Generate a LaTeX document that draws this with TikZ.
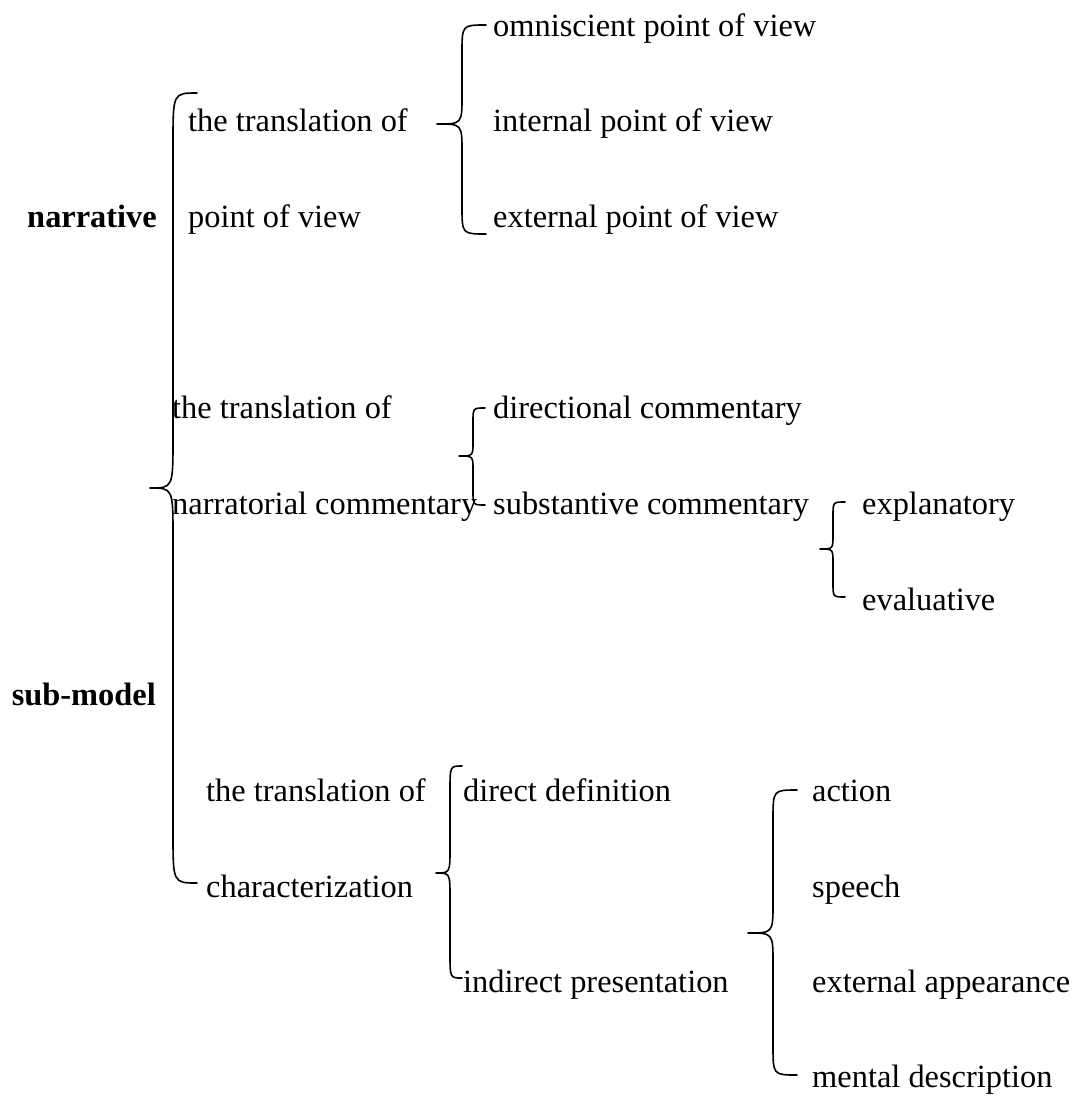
\documentclass[tikz,border=0pt]{standalone}
\usepackage{fontspec}
\setmainfont{Liberation Serif}
\newcommand\drawbrace[7]{% #1 end x, #2 top y, #3 stem x, #4 tip x, #5 tip y, #6 bottom y, #7 corner
  \draw[bracestyle] (#1,#2) .. controls (#3,#2) .. (#3,#2+#7) -- (#3,#5-#7)
    .. controls (#3,#5) .. (#4,#5) .. controls (#3,#5) .. (#3,#5+#7)
    -- (#3,#6-#7) .. controls (#3,#6) .. (#1,#6);}
\begin{document}
\begin{tikzpicture}[x=1pt,y=-1pt,
  lbl/.style={anchor=mid west,inner sep=0pt,font=\fontsize{32.4}{38}\selectfont},
  head/.style={lbl,anchor=mid east,font=\fontsize{32.4}{38}\selectfont\bfseries},
  bracestyle/.style={line width=1.6pt,line cap=round,line join=round}]
\path[use as bounding box,fill=white] (0,0) rectangle (1074,1097);
% text rows
\def\rA{34}\def\rB{129.6}\def\rC{225.3}\def\rE{416.6}\def\rF{512.2}\def\rG{607.8}
\def\rH{703.5}\def\rI{799.1}\def\rJ{894.8}\def\rK{990.4}\def\rL{1085}
\node[head] (narr) at (157,\rC) {narrative};
\node[head] (sub) at (156,\rH) {sub-model};
\node[lbl] (t1) at (188,\rB) {the translation of};
\node[lbl] (pov) at (188,\rC) {point of view};
\node[lbl] (omn) at (493,\rA) {omniscient point of view};
\node[lbl] (int) at (493,\rB) {internal point of view};
\node[lbl] (ext) at (493,\rC) {external point of view};
\node[lbl] (t2) at (172,\rE) {the translation of};
\node[lbl] (nc) at (172,\rF) {narratorial commentary};
\node[lbl] (dc) at (493,\rE) {directional commentary};
\node[lbl] (sc) at (493,\rF) {substantive commentary};
\node[lbl] (expl) at (862,\rF) {explanatory};
\node[lbl] (eval) at (862,\rG) {evaluative};
\node[lbl] (t3) at (206,\rI) {the translation of};
\node[lbl] (char) at (206,\rJ) {characterization};
\node[lbl] (dd) at (463,\rI) {direct definition};
\node[lbl] (ip) at (463,\rK) {indirect presentation};
\node[lbl] (act) at (812,\rI) {action};
\node[lbl] (sp) at (812,\rJ) {speech};
\node[lbl] (ea) at (812,\rK) {external appearance};
\node[lbl] (md) at (812,\rL) {mental description};
% braces
\drawbrace{197}{93}{173}{150}{488}{883}{50}
\drawbrace{486}{25}{462}{437}{124}{234}{28}
\drawbrace{485}{408}{473}{459}{456}{505}{14}
\drawbrace{845}{502}{833}{820}{549}{597}{14}
\drawbrace{462}{766}{450}{436}{873}{978}{25}
\drawbrace{797}{790}{773}{748}{933}{1075}{30}
\end{tikzpicture}
\end{document}
